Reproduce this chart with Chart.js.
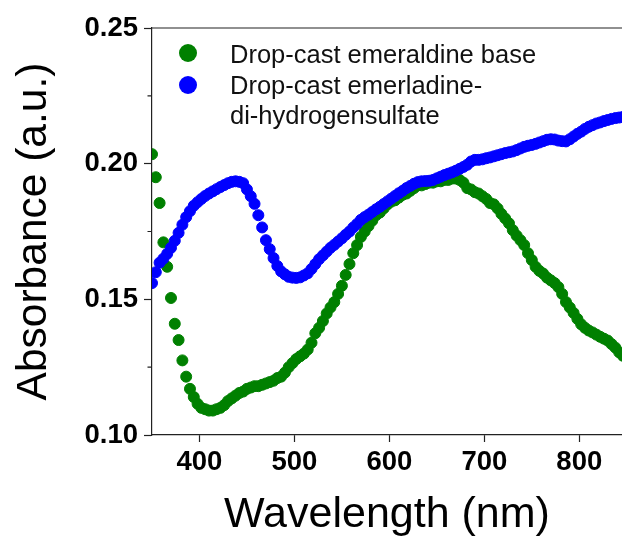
<!DOCTYPE html>
<html>
<head>
<meta charset="utf-8">
<script src="https://cdn.jsdelivr.net/npm/chart.js@4.4.1/dist/chart.umd.min.js"></script>
<style>
  body { margin: 0; background: #fff; overflow: hidden; }
  #wrap { width: 622px; height: 539px; }
</style>
</head>
<body>
<div id="wrap"><canvas id="absChart" width="622" height="539"></canvas></div>
<script>
// Wavelength grid (nm)
const wavelength = [
  350, 354, 358, 362, 366, 370, 374, 378, 382, 386,
  390, 394, 398, 402, 406, 410, 414, 418, 422, 426,
  430, 434, 438, 442, 446, 450, 454, 458, 462, 466,
  470, 474, 478, 482, 486, 490, 494, 498, 502, 506,
  510, 514, 518, 522, 526, 530, 534, 538, 542, 546,
  550, 554, 558, 562, 566, 570, 574, 578, 582, 586,
  590, 594, 598, 602, 606, 610, 614, 618, 622, 626,
  630, 634, 638, 642, 646, 650, 654, 658, 662, 666,
  670, 674, 678, 682, 686, 690, 694, 698, 702, 706,
  710, 714, 718, 722, 726, 730, 734, 738, 742, 746,
  750, 754, 758, 762, 766, 770, 774, 778, 782, 786,
  790, 794, 798, 802, 806, 810, 814, 818, 822, 826,
  830, 834, 838, 842, 846
];

// Drop-cast emeraldine base
const emeraldineBase = [
  0.2035, 0.1950, 0.1855, 0.1710, 0.1620, 0.1505, 0.1410, 0.1350, 0.1275, 0.1215,
  0.1170, 0.1140, 0.1115, 0.1100, 0.1095, 0.1090, 0.1090, 0.1095, 0.1100, 0.1110,
  0.1125, 0.1135, 0.1145, 0.1155, 0.1160, 0.1170, 0.1175, 0.1180, 0.1180, 0.1185,
  0.1190, 0.1195, 0.1200, 0.1210, 0.1215, 0.1230, 0.1250, 0.1265, 0.1280, 0.1290,
  0.1300, 0.1315, 0.1340, 0.1375, 0.1395, 0.1420, 0.1448, 0.1470, 0.1490, 0.1520,
  0.1550, 0.1590, 0.1630, 0.1670, 0.1700, 0.1730, 0.1750, 0.1770, 0.1790, 0.1810,
  0.1820, 0.1835, 0.1850, 0.1860, 0.1865, 0.1875, 0.1885, 0.1890, 0.1900, 0.1910,
  0.1920, 0.1920, 0.1925, 0.1930, 0.1930, 0.1935, 0.1935, 0.1940, 0.1940, 0.1945,
  0.1945, 0.1940, 0.1930, 0.1910, 0.1905, 0.1895, 0.1890, 0.1880, 0.1870, 0.1855,
  0.1850, 0.1835, 0.1815, 0.1798, 0.1780, 0.1755, 0.1735, 0.1718, 0.1700, 0.1670,
  0.1645, 0.1620, 0.1605, 0.1595, 0.1580, 0.1570, 0.1560, 0.1545, 0.1520, 0.1490,
  0.1470, 0.1450, 0.1428, 0.1408, 0.1395, 0.1385, 0.1378, 0.1370, 0.1362, 0.1355,
  0.1348, 0.1335, 0.1322, 0.1305, 0.1292
];

// Drop-cast emeraldine di-hydrogensulfate
const emeraldineSalt = [
  0.1560, 0.1600, 0.1635, 0.1650, 0.1668, 0.1690, 0.1716, 0.1745, 0.1775, 0.1803,
  0.1825, 0.1845, 0.1858, 0.1870, 0.1881, 0.1890, 0.1898, 0.1906, 0.1914, 0.1921,
  0.1928, 0.1933, 0.1935, 0.1933, 0.1928, 0.1905, 0.1880, 0.1852, 0.1810, 0.1765,
  0.1718, 0.1685, 0.1652, 0.1623, 0.1603, 0.1592, 0.1583, 0.1580, 0.1579, 0.1581,
  0.1588, 0.1596, 0.1612, 0.1630, 0.1648, 0.1662, 0.1676, 0.1690, 0.1701, 0.1713,
  0.1725, 0.1738, 0.1750, 0.1765, 0.1778, 0.1793, 0.1803, 0.1812, 0.1822, 0.1832,
  0.1841, 0.1851, 0.1861, 0.1871, 0.1881, 0.1891, 0.1900, 0.1910, 0.1918, 0.1926,
  0.1932, 0.1935, 0.1936, 0.1937, 0.1940, 0.1946, 0.1952, 0.1958, 0.1963, 0.1968,
  0.1974, 0.1981, 0.1988, 0.1996, 0.2008, 0.2014, 0.2014, 0.2016, 0.2020, 0.2023,
  0.2027, 0.2031, 0.2035, 0.2039, 0.2042, 0.2045, 0.2050, 0.2056, 0.2062, 0.2066,
  0.2069, 0.2073, 0.2078, 0.2083, 0.2088, 0.2090, 0.2089, 0.2085, 0.2083, 0.2082,
  0.2090, 0.2100, 0.2110, 0.2118, 0.2128, 0.2136, 0.2142, 0.2148, 0.2152, 0.2157,
  0.2161, 0.2165, 0.2168, 0.2170, 0.2172
];

const xTicks = [400, 500, 600, 700, 800];
const yTicks = [0.10, 0.15, 0.20, 0.25];
const yMinorTicks = [0.125, 0.175, 0.225];
const seriesNames = [
  ['Drop-cast emeraldine base'],
  ['Drop-cast emerladine-', 'di-hydrogensulfate']
];

const GREEN = '#008000';
const BLUE = '#0000ff';
const AXIS = '#222';
const FONT = "'Liberation Sans', Arial, sans-serif";

const toPoints = ys => wavelength.map((x, i) => ({ x: x, y: ys[i] }));

// top frame line, minor y ticks and the in-plot legend
const framePlugin = {
  id: 'framePlugin',
  afterDraw(chart) {
    const { ctx, chartArea: a, scales: { y } } = chart;
    ctx.save();
    ctx.strokeStyle = AXIS;
    ctx.lineWidth = 1.2;
    ctx.beginPath();
    ctx.moveTo(a.left, a.top);
    ctx.lineTo(a.right, a.top);
    yMinorTicks.forEach(v => {
      const p = y.getPixelForValue(v);
      ctx.moveTo(a.left - 4.5, p);
      ctx.lineTo(a.left, p);
    });
    ctx.stroke();

    const colors = [GREEN, BLUE];
    const markerY = [a.top + 25, a.top + 57];
    ctx.font = '25.5px ' + FONT;
    ctx.textBaseline = 'alphabetic';
    let baseline = a.top + 35;
    seriesNames.forEach((lines, i) => {
      ctx.beginPath();
      ctx.fillStyle = colors[i];
      ctx.arc(a.left + 36, markerY[i], 9, 0, Math.PI * 2);
      ctx.fill();
      ctx.fillStyle = '#111';
      lines.forEach(t => {
        ctx.fillText(t, a.left + 78, baseline);
        baseline += 30.5;
      });
    });
    ctx.restore();
  }
};

new Chart(document.getElementById('absChart'), {
  type: 'scatter',
  data: {
    datasets: [
      {
        label: seriesNames[1].join(''),
        data: toPoints(emeraldineSalt),
        backgroundColor: BLUE,
        borderColor: BLUE,
        pointRadius: 5.5,
        pointBorderWidth: 1,
        clip: 0
      },
      {
        label: seriesNames[0][0],
        data: toPoints(emeraldineBase),
        backgroundColor: GREEN,
        borderColor: GREEN,
        pointRadius: 5.5,
        pointBorderWidth: 1,
        clip: 0
      }
    ]
  },
  options: {
    responsive: false,
    animation: false,
    layout: { autoPadding: false, padding: { left: 0, top: 28, right: 0, bottom: 0 } },
    plugins: { legend: { display: false }, tooltip: { enabled: false } },
    scales: {
      x: {
        type: 'linear',
        min: 350,
        max: 845,
        afterFit: s => { s.height = 104; s.paddingLeft = 0; s.paddingRight = 0; },
        afterBuildTicks: s => { s.ticks = xTicks.map(v => ({ value: v })); },
        ticks: {
          padding: 4,
          color: '#000',
          font: { family: FONT, size: 27.5, weight: 'bold' }
        },
        grid: { drawOnChartArea: false, tickLength: 7, tickColor: AXIS, tickWidth: 1.2 },
        border: { color: AXIS, width: 1.2 },
        title: {
          display: true,
          text: 'Wavelength (nm)',
          color: '#000',
          padding: { top: 0, bottom: -2 },
          font: { family: FONT, size: 43 }
        }
      },
      y: {
        min: 0.10,
        max: 0.25,
        afterFit: s => { s.width = 152; s.paddingTop = 0; s.paddingBottom = 0; },
        afterBuildTicks: s => { s.ticks = yTicks.map(v => ({ value: v })); },
        ticks: {
          padding: 6,
          color: '#000',
          callback: v => v.toFixed(2),
          font: { family: FONT, size: 27.5, weight: 'bold' }
        },
        grid: { drawOnChartArea: false, tickLength: 8, tickColor: AXIS, tickWidth: 1.2 },
        border: { color: AXIS, width: 1.2 },
        title: {
          display: true,
          text: 'Absorbance (a.u.)',
          color: '#000',
          padding: { top: 9, bottom: 0 },
          font: { family: FONT, size: 42.5 }
        }
      }
    }
  },
  plugins: [framePlugin]
});
</script>
</body>
</html>
